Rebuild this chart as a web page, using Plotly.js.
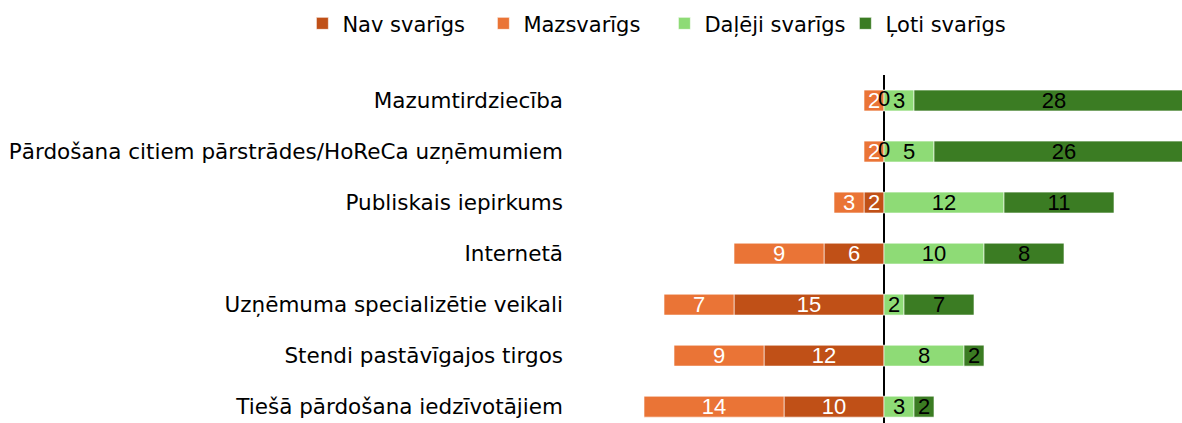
<!DOCTYPE html>
<html>
<head>
<meta charset="utf-8">
<script src="https://cdn.plot.ly/plotly-3.0.1.min.js"></script>
<style>html,body{margin:0;padding:0;background:#fff;}#chart{width:1182px;height:423px;}</style>
</head>
<body>
<div id="chart"></div>
<script>
const categories = [
  "Mazumtirdziecība",
  "Pārdošana citiem pārstrādes/HoReCa uzņēmumiem",
  "Publiskais iepirkums",
  "Internetā",
  "Uzņēmuma specializētie veikali",
  "Stendi pastāvīgajos tirgos",
  "Tiešā pārdošana iedzīvotājiem"
];
const navSvarigs   = [0, 0, 2, 6, 15, 12, 10];
const mazsvarigs   = [2, 2, 3, 9, 7, 9, 14];
const daljejiSvarigs = [3, 5, 12, 10, 2, 8, 3];
const lotiSvarigs  = [28, 26, 11, 8, 7, 2, 2];
const seriesNames = ["Nav svarīgs", "Mazsvarīgs", "Daļēji svarīgs", "Ļoti svarīgs"];

const labelFont = "Liberation Sans, Arial, sans-serif";
const textFont = "DejaVu Sans, sans-serif";
function barTrace(name, vals, sign, color, txtColor) {
  return {
    type: "bar", orientation: "h", name: name,
    y: categories, x: vals.map(v => sign * v),
    text: vals.map(v => v === 0 ? "" : String(v)),
    texttemplate: "%{text}",
    textposition: "inside", insidetextanchor: "middle", textangle: 0,
    constraintext: "none",
    insidetextfont: {family: labelFont, size: 22, color: txtColor},
    marker: {color: color, line: {color: "rgba(255,255,255,0.6)", width: 1}},
    hoverinfo: "skip"
  };
}
const zeroCats = categories.filter((c, i) => navSvarigs[i] === 0);
const traces = [
  barTrace(seriesNames[0], navSvarigs, -1, "#C05017", "#ffffff"),
  barTrace(seriesNames[1], mazsvarigs, -1, "#EA7436", "#ffffff"),
  barTrace(seriesNames[2], daljejiSvarigs, 1, "#8EDB76", "#000000"),
  barTrace(seriesNames[3], lotiSvarigs, 1, "#3B7C23", "#000000"),
  {
    type: "scatter", mode: "text", showlegend: false, hoverinfo: "skip",
    y: zeroCats, x: zeroCats.map(() => 0),
    text: zeroCats.map(() => "0"),
    textfont: {family: labelFont, size: 22, color: "#000000"},
    textposition: "middle center"
  }
];
const layout = {
  width: 1182, height: 423,
  margin: {l: 572, r: 0, t: 75, b: 0},
  paper_bgcolor: "#ffffff", plot_bgcolor: "#ffffff",
  barmode: "relative", bargap: 0.59,
  font: {family: textFont, size: 21, color: "#000000"},
  xaxis: {
    range: [-31.2, 29.8], showgrid: false, showticklabels: false, ticks: "",
    zeroline: true, zerolinecolor: "#000000", zerolinewidth: 2,
    layer: "above traces", fixedrange: true
  },
  yaxis: {
    range: [6.32, -0.5], showgrid: false, zeroline: false, ticks: "",
    tickfont: {family: textFont, size: 21.5, color: "#000000"},
    ticklabelstandoff: 8
  },
  legend: {
    orientation: "h",
    x: -0.442, xanchor: "left", y: 1.0885, yanchor: "bottom",
    font: {family: textFont, size: 21, color: "#000000"},
    traceorder: "normal", itemwidth: 30,
    entrywidth: 136, entrywidthmode: "pixels"
  },
  showlegend: true
};
Plotly.newPlot("chart", traces, layout, {displayModeBar: false, staticPlot: true});
</script>
</body>
</html>
